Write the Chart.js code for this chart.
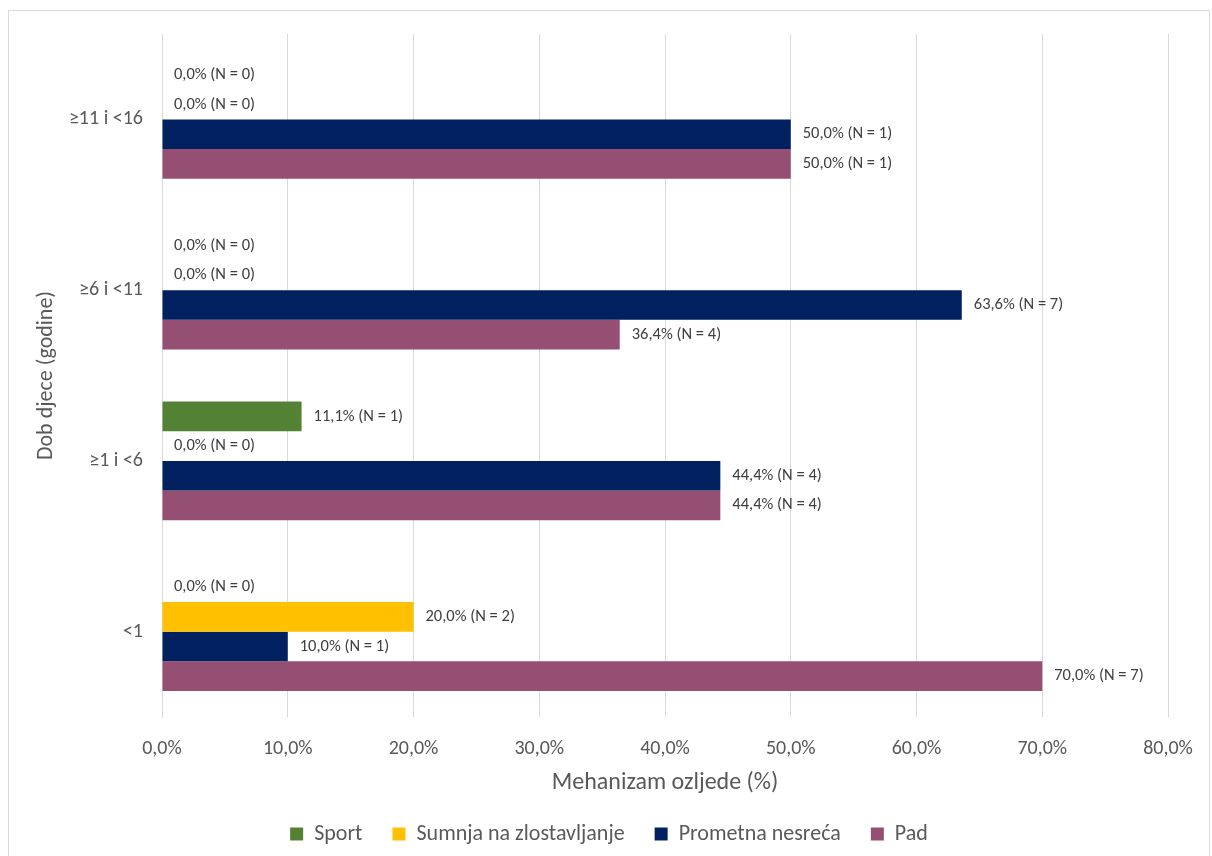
<!DOCTYPE html>
<html>
<head>
<meta charset="utf-8">
<script src="https://cdn.jsdelivr.net/npm/chart.js@4"></script>
<style>
  html, body { margin: 0; padding: 0; background: #fff; }
  #box {
    position: absolute; left: 8px; top: 10px;
    width: 1202px; height: 850px;
    border: 1px solid #d9d9d9; box-sizing: border-box;
  }
  canvas { display: block; }
</style>
</head>
<body>
<div id="box"><canvas id="chart"></canvas></div>
<script>
// age groups, top to bottom
const ageGroups = ['≥11 i <16', '≥6 i <11', '≥1 i <6', '<1'];

// percentages per mechanism
const sportPct = [0, 0, 11.1, 0];
const abusePct = [0, 0, 0, 20];
const trafficPct = [50, 63.6, 44.4, 10];
const fallPct = [50, 36.4, 44.4, 70];

// counts (N) per mechanism
const sportN = [0, 0, 1, 0];
const abuseN = [0, 0, 0, 2];
const trafficN = [1, 7, 4, 1];
const fallN = [1, 4, 4, 7];

const xTicks = [0, 10, 20, 30, 40, 50, 60, 70, 80];

const FONT = 'Carlito, Lato, sans-serif';

function pctText(v) {
    return v.toFixed(1).replace('.', ',') + '%';
}

// labels to the right of each bar, e.g. "50,0% (N = 1)"
const barLabels = {
    id: 'barLabels',
    afterDatasetsDraw(chart) {
        const ctx = chart.ctx;
        ctx.save();
        ctx.font = '16.5px ' + FONT;
        ctx.fillStyle = '#404040';
        ctx.textBaseline = 'middle';
        ctx.textAlign = 'left';
        chart.data.datasets.forEach((ds, i) => {
            const meta = chart.getDatasetMeta(i);
            meta.data.forEach((bar, j) => {
                const txt = pctText(ds.data[j]) + ' (N = ' + ds.counts[j] + ')';
                ctx.fillText(txt, bar.x + 12, bar.y);
            });
        });
        ctx.restore();
    }
};

const ctx = document.getElementById('chart').getContext('2d');

new Chart(ctx, {
    type: 'bar',
    data: {
        labels: ageGroups,
        datasets: [
            { label: 'Sport', data: sportPct, counts: sportN, backgroundColor: '#548235' },
            { label: 'Sumnja na zlostavljanje', data: abusePct, counts: abuseN, backgroundColor: '#FFC000' },
            { label: 'Prometna nesreća', data: trafficPct, counts: trafficN, backgroundColor: '#002060' },
            { label: 'Pad', data: fallPct, counts: fallN, backgroundColor: '#954F72' }
        ]
    },
    options: {
        indexAxis: 'y',
        responsive: true,
        maintainAspectRatio: false,
        animation: false,
        datasets: {
            bar: { categoryPercentage: 0.694, barPercentage: 1.0 }
        },
        layout: {
            padding: { top: 15, right: 0, left: 0, bottom: 4 }
        },
        scales: {
            x: {
                min: 0,
                max: 80,
                afterBuildTicks: axis => { axis.ticks = xTicks.map(v => ({ value: v })); },
                afterFit: axis => {
                    axis.height = 76;
                    axis.paddingLeft = 0;
                    axis.paddingRight = 41;
                },
                grid: { color: '#d9d9d9', drawTicks: false },
                border: { display: false },
                ticks: {
                    padding: 20,
                    color: '#595959',
                    font: { family: FONT, size: 20 },
                    callback: v => pctText(v)
                },
                title: {
                    display: true,
                    text: 'Mehanizam ozljede (%)',
                    color: '#595959',
                    font: { family: FONT, size: 24 },
                    padding: { top: 0, bottom: -4 }
                }
            },
            y: {
                afterFit: axis => { axis.width = 153; },
                grid: { display: false },
                border: { display: true, color: '#d9d9d9' },
                ticks: {
                    padding: 11,
                    color: '#595959',
                    font: { family: FONT, size: 20 }
                },
                title: {
                    display: true,
                    text: 'Dob djece (godine)',
                    color: '#595959',
                    font: { family: FONT, size: 22 },
                    padding: { top: 24, bottom: 0 }
                }
            }
        },
        plugins: {
            legend: {
                position: 'bottom',
                labels: {
                    color: '#595959',
                    font: { family: FONT, size: 22 },
                    boxWidth: 13,
                    boxHeight: 13,
                    padding: 30
                }
            },
            tooltip: { enabled: false }
        }
    },
    plugins: [barLabels]
});
</script>
</body>
</html>
